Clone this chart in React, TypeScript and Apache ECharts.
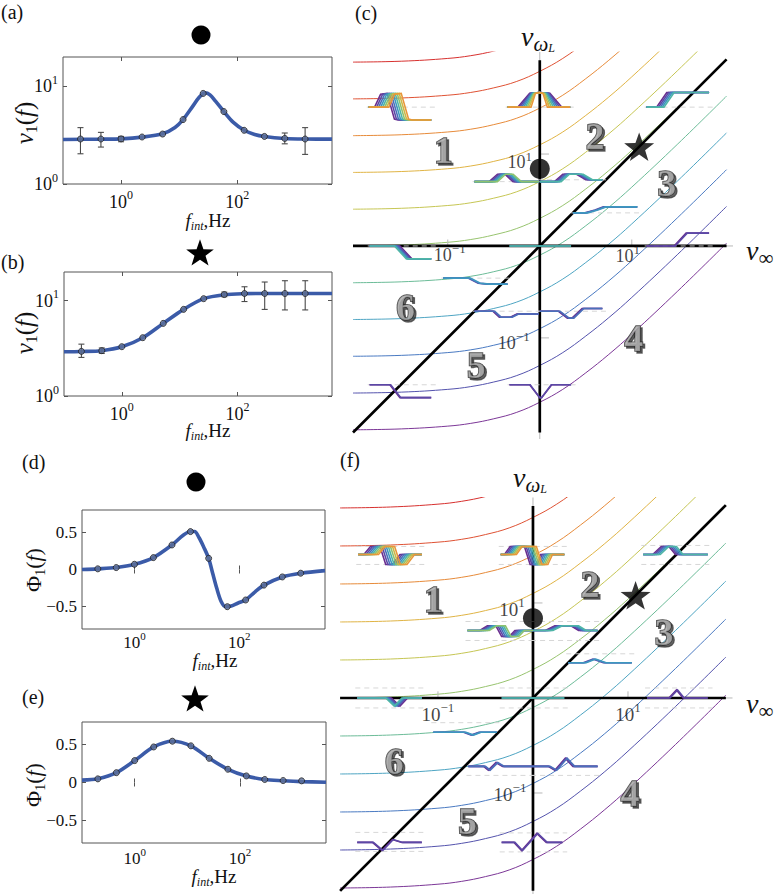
import React, { useEffect, useRef } from "react";
import * as echarts from "echarts";

const FONT = "Liberation Serif";

// ---------------- left panels (a),(b),(d),(e) ----------------
const fIntPoints = [0.2, 0.45, 1, 2.3, 5.2, 11.7, 26, 59, 132, 295, 660, 1480];

const nuCirclePoints = [2.89, 2.89, 2.9, 3.03, 3.25, 4.57, 8.47, 5.52, 3.55, 3.07, 2.93, 2.89];
const nuCircleCurve = [[0.1, 2.86], [0.5, 2.88], [1, 2.9], [2.3, 3.02], [5.2, 3.27], [8.5, 3.8], [11.7, 4.57], [17, 6.2], [22, 7.7], [28, 8.6], [34, 8.2], [42, 7.1], [59, 5.52], [85, 4.3], [132, 3.55], [200, 3.22], [295, 3.07], [660, 2.93], [1480, 2.89], [4300, 2.88]];
const nuCircleErr = [[0.2, 2.04, 3.78], [0.45, 2.39, 3.38], [1, 2.71, 3.07], [660, 2.58, 3.33], [1480, 2.01, 3.78]];

const nuStarPoints = [2.94, 2.99, 3.29, 4.09, 5.78, 8.11, 10.5, 11.6, 11.9, 11.9, 11.9, 11.9];
const nuStarCurve = [[0.1, 2.91], [0.2, 2.93], [0.45, 2.99], [1, 3.28], [2.3, 4.09], [5.2, 5.78], [11.7, 8.11], [26, 10.5], [59, 11.55], [132, 11.85], [295, 11.9], [4300, 11.9]];
const nuStarErr = [[0.2, 2.54, 3.5], [0.45, 2.8, 3.19], [59, 11.0, 12.3], [132, 9.8, 14.0], [295, 8.1, 15.7], [660, 8.0, 16.2], [1480, 8.0, 16.2]];

const phiCirclePoints = [0.009, 0.026, 0.07, 0.16, 0.33, 0.51, 0.15, -0.5, -0.41, -0.21, -0.1, -0.05];
const phiCircleCurve = [[0.1, 0.0], [0.2, 0.009], [0.45, 0.026], [1, 0.07], [2.3, 0.16], [5.2, 0.33], [8.5, 0.46], [11.7, 0.51], [14, 0.51], [17, 0.43], [21, 0.3], [26, 0.15], [31, -0.05], [37, -0.25], [45, -0.43], [55, -0.5], [70, -0.49], [95, -0.45], [132, -0.41], [200, -0.3], [295, -0.21], [660, -0.1], [1480, -0.05], [4300, -0.015]];

const phiStarPoints = [0.048, 0.13, 0.29, 0.47, 0.546, 0.485, 0.32, 0.175, 0.087, 0.04, 0.026, 0.022];
const phiStarCurve = [[0.1, 0.032], [0.2, 0.05], [0.45, 0.13], [1, 0.29], [2.3, 0.47], [5.2, 0.546], [11.7, 0.485], [26, 0.32], [59, 0.175], [132, 0.087], [295, 0.04], [660, 0.024], [1480, 0.012], [4300, 0.003]];

// ---------------- right panels (c),(f) : log10 coordinates ----------------
const contourX = [-2.03, -1.5, -1, -0.75, -0.5, -0.25, 0, 0.25, 0.5, 0.75, 1, 1.5, 2.03];
const contourRows = [
  [2.0, 2.01, 2.04, 2.07, 2.12, 2.19, 2.3, 2.44, 2.62, 2.82, 3.04, 3.51, 4.03],
  [1.6, 1.61, 1.64, 1.67, 1.72, 1.79, 1.9, 2.04, 2.22, 2.42, 2.64, 3.11, 3.63],
  [1.2, 1.21, 1.24, 1.27, 1.32, 1.39, 1.5, 1.64, 1.82, 2.02, 2.24, 2.71, 3.23],
  [0.8, 0.81, 0.84, 0.87, 0.92, 0.99, 1.1, 1.24, 1.42, 1.62, 1.84, 2.31, 2.83],
  [0.4, 0.41, 0.44, 0.47, 0.52, 0.59, 0.7, 0.84, 1.02, 1.22, 1.44, 1.91, 2.43],
  [0.0, 0.01, 0.04, 0.07, 0.12, 0.19, 0.3, 0.44, 0.62, 0.82, 1.04, 1.51, 2.03],
  [-0.4, -0.39, -0.36, -0.33, -0.28, -0.21, -0.1, 0.04, 0.22, 0.42, 0.64, 1.11, 1.63],
  [-0.8, -0.79, -0.76, -0.73, -0.68, -0.61, -0.5, -0.36, -0.18, 0.02, 0.24, 0.71, 1.23],
  [-1.2, -1.19, -1.16, -1.13, -1.08, -1.01, -0.9, -0.76, -0.58, -0.38, -0.16, 0.31, 0.83],
  [-1.6, -1.59, -1.56, -1.53, -1.48, -1.41, -1.3, -1.16, -0.98, -0.78, -0.56, -0.09, 0.43],
  [-2.0, -1.99, -1.96, -1.93, -1.88, -1.81, -1.7, -1.56, -1.38, -1.18, -0.96, -0.49, 0.03],
];
const contourColors = ["#d7312f", "#df5234", "#e78b3a", "#e0b445", "#c6c654", "#98c46f", "#6cbc98", "#4ea5c3", "#4a7ac2", "#5453ad", "#7c3797"];

const blackAxes = [[-2.03, 0, 2.03, 0], [0, -2.03, 0, 2.02], [-2.03, -2.03, 2.03, 2.03]];
const grayAxes = [[-2.03, 0, 2.1, 0], [0, -2.1, 0, 2.11], [-1, 0, -1, 0.07], [1, 0, 1, 0.07], [0, 1, 0.1, 1], [0, -1, 0.1, -1]];

const tickLabelPos = [[-1, 0], [1, 0], [0, 1], [0, -1]];
const tickLabelExp = ["−1", "1", "1", "−1"];

const regionNames = ["1", "2", "3", "4", "5", "6"];
const regionPos = [[-1.05, 1.04], [0.6, 1.2], [1.38, 0.69], [1.02, -1.0], [-0.69, -1.3], [-1.46, -0.66]];
const circlePos = [[0, 0.84]];
const starPos = [[1.08, 1.08]];

// inset waveforms: anchor (log10 coords) and shape [dx, dy] in decades
const insetAnchorsC = [[-1.86, 1.51], [-0.35, 1.51], [1.16, 1.51], [-0.71, 0.7], [0, 0.7], [0.36, 0.36], [1.16, 0], [-1.85, 0], [-0.33, 0], [-1.05, -0.35], [-0.71, -0.71], [0, -0.71], [-1.85, -1.51], [-0.33, -1.51]];
const insetShapesC = [
  [[0, 0], [0.065, 0], [0.13, 0.14], [0.2, 0.15], [0.28, -0.13], [0.32, -0.14], [0.68, -0.14]],
  [[0, 0], [0.11, 0], [0.24, 0.15], [0.35, 0.16], [0.46, 0.15], [0.59, 0], [0.68, 0]],
  [[0, 0], [0.11, 0], [0.22, 0.16], [0.68, 0.16]],
  [[0, 0], [0.16, 0], [0.25, 0.08], [0.33, 0.08], [0.42, 0], [0.7, 0]],
  [[0, 0], [0.16, 0], [0.25, 0.08], [0.4, 0.08], [0.5, 0.02], [0.68, 0.02]],
  [[0, 0], [0.13, 0], [0.24, 0.03], [0.33, 0.065], [0.7, 0.065]],
  [[0, 0], [0.3, 0], [0.43, 0.14], [0.68, 0.14]],
  [[0, 0], [0.33, 0], [0.46, -0.14], [0.67, -0.14]],
  [[0, 0], [0.67, 0]],
  [[0, 0], [0.27, 0], [0.38, -0.055], [0.49, -0.065], [0.7, -0.065]],
  [[0, 0], [0.2, 0], [0.27, -0.065], [0.39, -0.065], [0.46, -0.03], [0.7, -0.03]],
  [[0, 0], [0.2, 0], [0.3, -0.075], [0.35, -0.075], [0.46, 0.03], [0.68, 0.03]],
  [[0, 0], [0.22, 0], [0.33, -0.14], [0.67, -0.14]],
  [[0, 0], [0.22, 0], [0.33, -0.14], [0.35, -0.14], [0.46, 0], [0.67, 0]],
];
const insetAnchorsF = [[-1.84, 1.51], [-0.34, 1.51], [1.16, 1.51], [-0.69, 0.71], [0, 0.71], [0.37, 0.37], [1.2, 0], [-1.85, 0], [-0.33, 0], [-1.05, -0.36], [-0.68, -0.72], [0, -0.72], [-1.85, -1.52], [-0.33, -1.52]];
const insetShapesF = [
  [[0, 0], [0.06, 0], [0.13, 0.085], [0.23, 0.085], [0.29, -0.105], [0.36, -0.105], [0.44, 0], [0.67, 0]],
  [[0, 0], [0.04, 0], [0.1, 0.085], [0.25, 0.085], [0.31, -0.105], [0.37, -0.105], [0.42, 0], [0.67, 0]],
  [[0, 0], [0.1, 0], [0.19, 0.085], [0.27, 0.085], [0.34, 0], [0.68, 0]],
  [[0, 0], [0.13, 0], [0.21, 0.05], [0.3, 0.05], [0.36, -0.063], [0.44, -0.063], [0.5, 0], [0.69, 0]],
  [[0, 0], [0.13, 0], [0.23, 0.05], [0.4, 0.05], [0.48, 0], [0.68, 0]],
  [[0, 0], [0.16, 0], [0.26, 0.04], [0.37, 0], [0.67, 0]],
  [[0, 0], [0.23, 0], [0.31, 0.085], [0.38, 0], [0.64, 0]],
  [[0, 0], [0.36, 0], [0.45, -0.085], [0.53, 0], [0.68, 0]],
  [[0, 0], [0.66, 0]],
  [[0, 0], [0.32, 0], [0.4, -0.03], [0.48, 0], [0.67, 0]],
  [[0, 0], [0.16, 0], [0.21, -0.04], [0.29, 0.04], [0.36, 0], [0.68, 0]],
  [[0, 0], [0.16, 0], [0.23, -0.04], [0.34, 0.085], [0.42, 0], [0.68, 0]],
  [[0, 0], [0.16, 0], [0.26, -0.085], [0.37, 0.03], [0.47, 0], [0.68, 0]],
  [[0, 0], [0.13, 0], [0.21, -0.085], [0.37, 0.095], [0.47, 0], [0.64, 0]],
];

// styles of the inset bundles (palette range, shift / squeeze per line, dashed levels)
const bundlePalette = ["#6a2d8e", "#5b48a6", "#4a6fba", "#3d97bf", "#4fb5a6", "#8ec26f", "#cdb848", "#e8973a"];
const insetStyleC = [
  { c: [0, 7], sh: 0.022, sq: 0, d: [0] },
  { c: [0, 7], sh: 0, sq: 0.09, d: [0] },
  { c: [0, 4], sh: 0.02, sq: 0, d: [0] },
  { c: [0, 5], sh: 0.018, sq: 0, d: [0] },
  { c: [0, 4], sh: 0.018, sq: 0, d: [0.02] },
  { c: [1, 3], sh: 0.015, sq: 0, d: [0] },
  { c: [0, 1], sh: 0.012, sq: 0, d: [0] },
  { c: [0, 4], sh: -0.015, sq: 0, d: [0] },
  { c: [3, 4], sh: 0, sq: 0, d: [] },
  { c: [1, 3], sh: 0.012, sq: 0, d: [0] },
  { c: [0, 2], sh: 0.01, sq: 0, d: [0] },
  { c: [0, 2], sh: 0.01, sq: 0, d: [0] },
  { c: [0, 1], sh: 0.01, sq: 0, d: [0] },
  { c: [0, 1], sh: 0, sq: 0.05, d: [0] },
];
const insetStyleF = [
  { c: [0, 7], sh: 0.022, sq: 0, d: [0.085, -0.105] },
  { c: [0, 7], sh: 0.018, sq: 0, d: [0.085, -0.105] },
  { c: [0, 4], sh: 0.02, sq: 0, d: [0.095, -0.105] },
  { c: [0, 5], sh: 0.02, sq: 0, d: [0.095, -0.105] },
  { c: [0, 4], sh: 0.02, sq: 0, d: [0.095, -0.105] },
  { c: [1, 3], sh: 0.015, sq: 0, d: [0.095] },
  { c: [0, 1], sh: 0.012, sq: 0, d: [0.105, -0.105] },
  { c: [0, 4], sh: -0.015, sq: 0, d: [0.105, -0.105] },
  { c: [3, 4], sh: 0, sq: 0, d: [0.105, -0.105] },
  { c: [1, 3], sh: 0.012, sq: 0, d: [0.1] },
  { c: [0, 2], sh: 0.01, sq: 0, d: [-0.095] },
  { c: [0, 2], sh: 0.01, sq: 0, d: [-0.095] },
  { c: [0, 1], sh: 0.01, sq: 0, d: [0.105, -0.095] },
  { c: [0, 1], sh: 0.01, sq: 0, d: [0.1, -0.1] },
];

const STAR_D = "M50 0 L61.8 33.8 L97.6 34.5 L69 56.2 L79.4 90.5 L50 70 L20.6 90.5 L31 56.2 L2.4 34.5 L38.2 33.8 Z";

// ---------------- helpers ----------------
const richTick = (size: number, supRatio = 0.66) => ({
  b: { fontFamily: FONT, fontSize: size, lineHeight: Math.round(size * 1.4), color: "#111", fill: "#111" },
  s: { fontFamily: FONT, fontSize: Math.round(size * supRatio), lineHeight: Math.round(size * 0.6), verticalAlign: "top", color: "#111", fill: "#111" },
});
const expStr = (e: number) => (e < 0 ? "−" + Math.abs(e) : String(e));
const logFmt = (v: number) => `{b|10}{s|${expStr(Math.round(Math.log10(v)))}}`;

function errRender(params: any, api: any) {
  const x = api.value(0);
  const p1 = api.coord([x, api.value(1)]);
  const p2 = api.coord([x, api.value(2)]);
  const w = 3;
  const st = { stroke: "#4a4a4a", lineWidth: 1.1 };
  return {
    type: "group",
    children: [
      { type: "line", shape: { x1: p1[0], y1: p1[1], x2: p2[0], y2: p2[1] }, style: st },
      { type: "line", shape: { x1: p1[0] - w, y1: p1[1], x2: p1[0] + w, y2: p1[1] }, style: st },
      { type: "line", shape: { x1: p2[0] - w, y1: p2[1], x2: p2[0] + w, y2: p2[1] }, style: st },
    ],
  };
}

function segRender(color: string, width: number) {
  return (params: any, api: any) => {
    const a = api.coord([api.value(0), api.value(1)]);
    const b = api.coord([api.value(2), api.value(3)]);
    return { type: "line", shape: { x1: a[0], y1: a[1], x2: b[0], y2: b[1] }, style: { stroke: color, lineWidth: width } };
  };
}

function insetRender(shapes: number[][][], styles: any[]) {
  return (params: any, api: any) => {
    const i = params.dataIndex;
    const ax = api.value(0), ay = api.value(1);
    const shape = shapes[i], st = styles[i];
    const w = shape[shape.length - 1][0];
    const cx = w / 2;
    const children: any[] = [];
    st.d.forEach((dy: number) => {
      const p0 = api.coord([ax - 0.02, ay + dy]);
      const p1 = api.coord([ax + w + 0.05, ay + dy]);
      children.push({ type: "line", shape: { x1: p0[0], y1: p0[1], x2: p1[0], y2: p1[1] }, style: { stroke: "#d2d2d2", lineWidth: 0.9, lineDash: [5, 4] } });
    });
    for (let k = st.c[0]; k <= st.c[1]; k++) {
      const n = k - st.c[0];
      const pts = shape.map(([dx, dy], j) => {
        let x = dx;
        if (j > 0 && j < shape.length - 1) x = cx + (dx - cx) * (1 - n * st.sq) + n * st.sh;
        return api.coord([ax + x, ay + dy]);
      });
      children.push({ type: "polyline", shape: { points: pts }, style: { stroke: bundlePalette[k], lineWidth: 1.6, fill: "none" } });
    }
    return { type: "group", children };
  };
}

const invisible = { color: "rgba(0,0,0,0)" };

function buildOption() {
  const leftPanels = [
    { grid: { left: 63, top: 57, width: 269, height: 127 }, log: true, min: 1, max: 20, pts: nuCirclePoints, curve: nuCircleCurve, err: nuCircleErr, fx: 18, fy: 18, mx: 5 },
    { grid: { left: 64, top: 272, width: 268, height: 124 }, log: true, min: 1, max: 20, pts: nuStarPoints, curve: nuStarCurve, err: nuStarErr, fx: 18, fy: 18, mx: 5 },
    { grid: { left: 82, top: 510, width: 243, height: 119 }, log: false, min: -0.8, max: 0.8, pts: phiCirclePoints, curve: phiCircleCurve, err: null, fx: 17, fy: 17, mx: 1 },
    { grid: { left: 82, top: 722, width: 244, height: 121 }, log: false, min: -0.8, max: 0.8, pts: phiStarPoints, curve: phiStarCurve, err: null, fx: 17, fy: 17, mx: 3 },
  ];
  const grid: any[] = [];
  const xAxis: any[] = [];
  const yAxis: any[] = [];
  const series: any[] = [];
  const tickStyle = { show: true, inside: true, length: 4, lineStyle: { color: "#555", width: 1 } };

  leftPanels.forEach((p, i) => {
    grid.push({ ...p.grid, show: true, borderColor: "#555", borderWidth: 1, backgroundColor: "transparent", outerBoundsMode: "none" });
    ["bottom", "top"].forEach((pos) => {
      xAxis.push({
        gridIndex: i, type: "log", logBase: 10, min: 0.1, max: 4300, position: pos,
        axisLine: { show: false },
        axisTick: { ...tickStyle, customValues: [1, 100] },
        axisLabel: pos === "bottom" ? { show: true, customValues: [1, 100], formatter: logFmt, rich: richTick(p.fx), margin: p.mx } : { show: false },
        splitLine: { show: false }, minorTick: { show: false },
      });
    });
    ["left", "right"].forEach((pos) => {
      const yVals = p.log ? [1, 10] : [-0.5, 0, 0.5];
      yAxis.push({
        gridIndex: i, type: p.log ? "log" : "value", logBase: 10, min: p.min, max: p.max, position: pos,
        axisLine: { show: false },
        axisTick: { ...tickStyle, customValues: yVals },
        axisLabel: pos === "left"
          ? { show: true, customValues: yVals, margin: 5,
              formatter: p.log ? logFmt : (v: number) => (v === 0 ? "0" : v > 0 ? "0.5" : "−0.5"),
              fontFamily: FONT, fontSize: p.fy, color: "#111", rich: richTick(p.fy) }
          : { show: false },
        splitLine: { show: false }, minorTick: { show: false },
      });
    });
    const xi = 2 * i, yi = 2 * i;
    series.push({
      type: "line", xAxisIndex: xi, yAxisIndex: yi, data: p.curve, smooth: 0.3,
      symbol: "none", lineStyle: { color: "#3b5ba8", width: 3.6 }, z: 2, silent: true,
    });
    if (p.err) {
      series.push({ type: "custom", xAxisIndex: xi, yAxisIndex: yi, data: p.err, renderItem: errRender, encode: { x: 0, y: [1, 2] }, z: 3, silent: true });
    }
    series.push({
      type: "scatter", xAxisIndex: xi, yAxisIndex: yi, data: fIntPoints.map((x, j) => [x, p.pts[j]]),
      symbol: "circle", symbolSize: 6, itemStyle: { color: "#5f7199", borderColor: "#222", borderWidth: 1 }, z: 4, silent: true,
    });
  });

  const rightPanels = [
    { grid: { left: 353, top: 52, width: 380, height: 387 }, anchors: insetAnchorsC, shapes: insetShapesC, styles: insetStyleC, tickOff: [[2, 9], [-4, 10], [-20, 8], [-26, 5]], tickSize: 18 },
    { grid: { left: 340.1, top: 497.5, width: 392.4, height: 400 }, anchors: insetAnchorsF, shapes: insetShapesF, styles: insetStyleF, tickOff: [[0, 17], [0, 17], [-21, 7], [-23, 2]], tickSize: 19 },
  ];
  rightPanels.forEach((p, r) => {
    const gi = 4 + r;
    const ai = 8 + r;
    grid.push({ ...p.grid, show: false, outerBoundsMode: "none" });
    xAxis.push({ gridIndex: gi, type: "value", min: -2.03, max: 2.1, show: false });
    yAxis.push({ gridIndex: gi, type: "value", min: -2.1, max: 2.11, show: false });
    contourRows.forEach((row, k) => {
      series.push({
        type: "line", xAxisIndex: ai, yAxisIndex: ai, data: contourX.map((x, j) => [x, row[j]]),
        smooth: 0.4, symbol: "none", lineStyle: { color: contourColors[k], width: 1 }, z: 2, clip: true, silent: true,
      });
    });
    series.push({ type: "custom", xAxisIndex: ai, yAxisIndex: ai, data: grayAxes, renderItem: segRender("#b8b8b8", 1), z: 3, silent: true });
    series.push({ type: "custom", xAxisIndex: ai, yAxisIndex: ai, data: blackAxes, renderItem: segRender("#000", 2.7), z: 4, silent: true });
    series.push({ type: "custom", xAxisIndex: ai, yAxisIndex: ai, data: p.anchors, renderItem: insetRender(p.shapes, p.styles), z: 5, silent: true });
    series.push({
      type: "scatter", xAxisIndex: ai, yAxisIndex: ai, symbolSize: 1, itemStyle: invisible, z: 6, silent: true,
      data: tickLabelPos.map((v, j) => ({ name: tickLabelExp[j], value: v, label: { offset: p.tickOff[j] } })),
      label: { show: true, position: "inside", formatter: (q: any) => `{b|10}{s|${q.name}}`, rich: richTick(p.tickSize, 0.7) },
    });
    series.push({
      type: "scatter", xAxisIndex: ai, yAxisIndex: ai, symbolSize: 1, itemStyle: invisible, z: 8, silent: true,
      data: regionPos.map((v, j) => ({ name: regionNames[j], value: v })),
      label: {
        show: true, position: "inside", formatter: "{b}", fontFamily: FONT, fontSize: 38, fontWeight: "bold", color: "#a6a6a6",
        textBorderColor: "#1a1a1a", textBorderWidth: 1.4,
        textShadowColor: "rgba(0,0,0,0.75)", textShadowOffsetX: 2, textShadowOffsetY: 2, textShadowBlur: 0.5,
      },
    });
    series.push({ type: "scatter", xAxisIndex: ai, yAxisIndex: ai, data: circlePos, symbol: "circle", symbolSize: 20, itemStyle: { color: "#000" }, z: 9, silent: true });
    series.push({ type: "scatter", xAxisIndex: ai, yAxisIndex: ai, data: starPos, symbol: "path://" + STAR_D, symbolKeepAspect: true, symbolSize: 30, itemStyle: { color: "#000" }, z: 9, silent: true });
  });

  const gText = (x: number, y: number, text: string, rich: any, opt: any = {}) => ({
    type: "text", x, y, rotation: opt.rot || 0, silent: true, z: 100,
    style: { text, rich, align: opt.align || "center", verticalAlign: opt.va || "middle", fill: "#111", fontFamily: FONT, fontSize: opt.size || 20 },
  });
  const yRich = (size: number) => ({
    i: { fontFamily: FONT, fontStyle: "italic", fontSize: size, lineHeight: size + 6, fill: "#111" },
    n: { fontFamily: FONT, fontSize: size, lineHeight: size + 6, fill: "#111" },
    sub: { fontFamily: FONT, fontSize: Math.round(size * 0.62), lineHeight: Math.round(size * 0.62), verticalAlign: "bottom", fill: "#111" },
  });
  const xRich = {
    i: { fontFamily: FONT, fontStyle: "italic", fontSize: 19, lineHeight: 24, fill: "#111" },
    n: { fontFamily: FONT, fontSize: 19, lineHeight: 24, fill: "#111" },
    sub: { fontFamily: FONT, fontStyle: "italic", fontSize: 12, lineHeight: 11, verticalAlign: "bottom", fill: "#111" },
  };
  const nuRich = {
    n: { fontFamily: FONT, fontStyle: "italic", fontSize: 28, lineHeight: 36, fill: "#111" },
    w: { fontFamily: FONT, fontStyle: "italic", fontSize: 21, lineHeight: 24, verticalAlign: "bottom", fill: "#111" },
    l: { fontFamily: FONT, fontStyle: "italic", fontSize: 12, lineHeight: 16, verticalAlign: "bottom", fill: "#111" },
    inf: { fontFamily: FONT, fontSize: 21, lineHeight: 20, verticalAlign: "bottom", fill: "#111" },
  };
  const nuY = "{i|ν}{sub|1}{n|(}{i|f}{n|)}";
  const phiY = "{n|Φ}{sub|1}{n|(}{i|f}{n|)}";
  const fX = "{i|f}{sub|int}{n|,Hz}";
  const star = (cx: number, cy: number, s: number) => ({
    type: "star5", x: cx - 50 * s, y: cy - 47 * s, scaleX: s, scaleY: s, silent: true, z: 100, style: { fill: "#000" },
  });
  const graphic: any[] = [
    gText(1, 2, "(a)", undefined, { align: "left", va: "top" }),
    gText(1, 252, "(b)", undefined, { align: "left", va: "top" }),
    gText(355, 3, "(c)", undefined, { align: "left", va: "top" }),
    gText(22, 452, "(d)", undefined, { align: "left", va: "top" }),
    gText(22, 687, "(e)", undefined, { align: "left", va: "top" }),
    gText(340, 450, "(f)", undefined, { align: "left", va: "top" }),
    { type: "circle", shape: { cx: 201, cy: 35, r: 9.5 }, style: { fill: "#000" }, silent: true, z: 100 },
    { type: "circle", shape: { cx: 196, cy: 482, r: 9.5 }, style: { fill: "#000" }, silent: true, z: 100 },
    star(200, 253, 0.29),
    star(195, 699, 0.29),
    gText(24, 123, nuY, yRich(25), { rot: Math.PI / 2 }),
    gText(24, 333, nuY, yRich(25), { rot: Math.PI / 2 }),
    gText(33, 570, phiY, yRich(22), { rot: Math.PI / 2 }),
    gText(33, 785, phiY, yRich(22), { rot: Math.PI / 2 }),
    gText(208, 220, fX, xRich),
    gText(208, 430, fX, xRich),
    gText(215, 660, fX, xRich),
    gText(214, 876, fX, xRich),
    gText(538, 36, "{n|ν}{w|ω}{l|L}", nuRich),
    gText(746, 250, "{n|ν}{inf|∞}", nuRich, { align: "left" }),
    gText(530, 477, "{n|ν}{w|ω}{l|L}", nuRich),
    gText(746, 703, "{n|ν}{inf|∞}", nuRich, { align: "left" }),
  ];

  return { animation: false, backgroundColor: "#fff", grid, xAxis, yAxis, series, graphic };
}

export default function App() {
  const ref = useRef<HTMLDivElement>(null);
  useEffect(() => {
    if (!ref.current) return;
    echarts.graphic.registerShape("star5", echarts.graphic.extendPath(STAR_D, {}));
    const chart = echarts.init(ref.current, null, { renderer: "svg" });
    chart.setOption(buildOption() as any);
    return () => chart.dispose();
  }, []);
  return <div ref={ref} style={{ position: "absolute", left: 0, top: 0, width: 779, height: 894, background: "#fff" }} />;
}
